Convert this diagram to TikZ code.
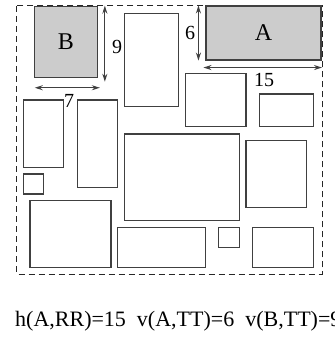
\documentclass[tikz,border=0pt]{standalone}
\usepackage{fontspec}
\setmainfont{Liberation Serif}
\usetikzlibrary{arrows.meta}

\begin{document}
\begin{tikzpicture}
[
	x=1pt,y=-1pt,
	box/.style={draw=black!75,line width=1.1pt},
	placed/.style={box,fill=black!20,inner sep=0pt,font=\fontsize{24}{24}\selectfont},
	dim/.style={{Stealth[length=8pt,width=5pt]}-{Stealth[length=8pt,width=5pt]},draw=black!75,line width=1.1pt},
	num/.style={font=\fontsize{20}{20}\selectfont,inner sep=0pt}
]
	\useasboundingbox (0,0) rectangle (334,339);

	% frame
	\draw[black!85,line width=1pt,dash pattern=on 6pt off 4pt] (16.7,6) rectangle (322,274);
	\coordinate (RR) at (322,6);

	% placed modules
	\node[placed,minimum width=63pt,minimum height=71pt] (B) at (65.8,41.7) {B};
	\node[placed,minimum width=115pt,minimum height=54pt] (A) at (263.5,33) {A};

	% free modules
	\draw[box] (124.3,13.3) rectangle (178.7,106.7);
	\draw[box] (185.3,73.3) rectangle (246,126.7);
	\draw[box] (259.3,94) rectangle (313.7,126.7);
	\draw[box] (23.3,100) rectangle (63.3,167.3);
	\draw[box] (77.3,100) rectangle (117.7,187.3);
	\draw[box] (23.3,174) rectangle (43.3,194);
	\draw[box] (124.3,134) rectangle (239.3,220.7);
	\draw[box] (246,140.7) rectangle (306.3,207.3);
	\draw[box] (30,200.7) rectangle (111,267.3);
	\draw[box] (117.7,227.7) rectangle (205.3,267.3);
	\draw[box] (218.7,227.7) rectangle (239.3,247.7);
	\draw[box] (252.7,227.7) rectangle (313.7,267.3);

	% distances
	\draw[dim] ([shift={(7,0)}]B.north east) -- ([shift={(7,4)}]B.south east);
	\node[num] at (117,47) {9};
	\draw[dim] ([shift={(1,10)}]B.south west) -- ([shift={(2,10)}]B.south east);
	\node[num] at (69,101) {7};
	\draw[dim] ([shift={(-7,0)}]A.north west) -- ([shift={(-7,0)}]A.south west);
	\node[num] at (190,33) {6};
	\draw[dim] ([shift={(-2,7)}]A.south west) -- ([shift={(0,7)}]A.south east -| RR);
	\node[num] at (264,80) {15};

	\node[anchor=base west,inner sep=0pt,font=\fontsize{22}{22}\selectfont] (eq) at (15,326)
	  {h(A,RR)=15\ \ v(A,TT)=6\ \ v(B,TT)=9};

\end{tikzpicture}
\end{document}
